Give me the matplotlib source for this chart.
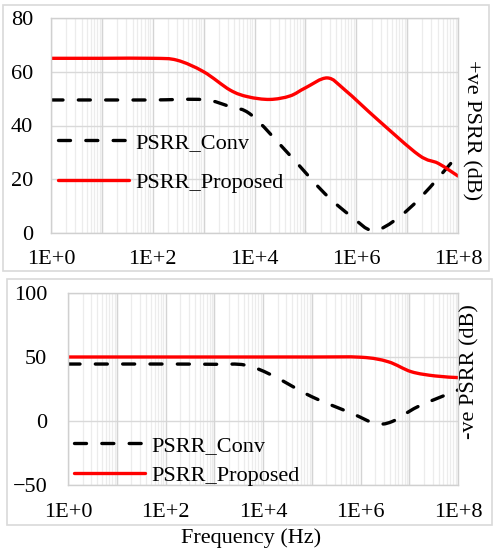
import numpy as np
import matplotlib
matplotlib.use('Agg')
import matplotlib.pyplot as plt
from matplotlib.patches import Rectangle, PathPatch
from matplotlib.path import Path
from matplotlib.lines import Line2D
from matplotlib.ticker import LogLocator, FixedLocator, NullFormatter

plt.rcParams['font.family'] = ['Liberation Serif', 'DejaVu Serif']
plt.rcParams['font.size'] = 16

# +ve PSRR (top panel), frequency in Hz
f_top_conv = [1, 10, 100, 1e3, 3.3e3, 8.7e3, 4.6e4, 2.4e5, 8.1e5, 2.1e6, 5.8e6, 1.9e7, 1e8]
psrr_top_conv = [49.5, 49.5, 49.5, 49.6, 47.0, 43.9, 29.6, 14.7, 6.1, 0.9, 4.8, 13.5, 29.0]
f_top_prop = [1, 10, 100, 300, 1e3, 3.3e3, 7.4e3, 2e4, 5e4, 1e5, 2.7e5, 6e5, 2.7e6, 1.7e7, 4.1e7, 1e8]
psrr_top_prop = [65, 65, 65, 64.3, 60.0, 53.2, 50.7, 49.7, 51.0, 54.0, 57.7, 53.2, 42.0, 29.0, 25.9, 21.2]

# -ve PSRR (bottom panel)
f_bot_conv = [1, 10, 100, 1e3, 4.3e3, 1.5e4, 1e5, 6.6e5, 2e6, 4.4e6, 1.5e7, 1e8]
psrr_bot_conv = [44.5, 44.5, 44.5, 44.3, 43.7, 35.9, 19.0, 6.0, -1.8, -0.5, 11.2, 24.2]
f_bot_prop = [1, 10, 100, 1e3, 1e4, 1e5, 1.05e6, 3.7e6, 1.1e7, 3.4e7, 1e8]
psrr_bot_prop = [50, 50, 50, 50, 50, 50, 49.8, 46.3, 38.5, 35.2, 33.9]

xticks = [1, 1e2, 1e4, 1e6, 1e8]
xtick_labels = ['1E+0', '1E+2', '1E+4', '1E+6', '1E+8']

W, H = 493, 550
fig = plt.figure(figsize=(W / 100, H / 100), dpi=100)

def px_axes(l, t, r, b):
  return fig.add_axes([l / W, 1 - b / H, (r - l) / W, (b - t) / H])

def smooth_line(ax, f, y, **kw):
  # excel-style smoothed line: bezier segments through the points (log x)
  lx = np.log10(f)
  y = np.asarray(y, float)
  n = len(lx)
  verts = [(f[0], y[0])]
  codes = [Path.MOVETO]
  for i in range(n - 1):
    i0, i2 = max(i - 1, 0), min(i + 2, n - 1)
    c1x = lx[i] + (lx[i + 1] - lx[i0]) / 6
    c1y = y[i] + (y[i + 1] - y[i0]) / 6
    c2x = lx[i + 1] - (lx[i2] - lx[i]) / 6
    c2y = y[i + 1] - (y[i2] - y[i]) / 6
    verts += [(10 ** c1x, c1y), (10 ** c2x, c2y), (f[i + 1], y[i + 1])]
    codes += [Path.CURVE4] * 3
  ax.add_patch(PathPatch(Path(verts, codes), fill=False, **kw))

def style(ax, ylim, yticks, ypad, xpad):
  ax.set_xscale('log')
  ax.set_xlim(1, 1e8)
  ax.set_ylim(*ylim)
  ax.set_yticks(yticks)
  ax.xaxis.set_major_locator(FixedLocator(xticks))
  ax.set_xticklabels(xtick_labels)
  ax.xaxis.set_minor_locator(LogLocator(base=10, subs=np.arange(1, 10), numticks=100))
  ax.xaxis.set_minor_formatter(NullFormatter())
  ax.tick_params(axis='both', which='both', length=0)
  ax.tick_params(axis='y', pad=ypad)
  ax.tick_params(axis='x', pad=xpad)
  ax.grid(True, axis='x', which='minor', color='#ececec', lw=0.9)
  ax.grid(True, axis='y', which='major', color='#d9d9d9', lw=1.0)
  for d in range(9):
    ax.axvline(10.0 ** d, color='#d4d4d4', lw=1.0, zorder=0.6)
  ax.set_axisbelow(True)
  for s in ax.spines.values():
    s.set_color('#d0d0d0')
    s.set_linewidth(1.0)

lw = 2.4
dash = (3.6, 4.6)
conv_kw = dict(color='black', lw=lw, linestyle=(0, dash), capstyle='round')
prop_kw = dict(color='#ff0000', lw=lw, capstyle='round')
handles = [Line2D([], [], color='black', lw=lw, dashes=dash, dash_capstyle='round'),
           Line2D([], [], color='#ff0000', lw=lw, solid_capstyle='round')]
names = ['PSRR_Conv', 'PSRR_Proposed']

# figure frames
fig.add_artist(Rectangle((3 / W, 1 - 271 / H), 486 / W, 266 / H, transform=fig.transFigure,
                         fill=False, ec='#d9d9d9', lw=1.2))
fig.add_artist(Rectangle((7 / W, 1 - 525 / H), 485 / W, 246 / H, transform=fig.transFigure,
                         fill=False, ec='#d9d9d9', lw=1.2))

ax1 = px_axes(51, 18, 458, 233)
smooth_line(ax1, f_top_conv, psrr_top_conv, **conv_kw)
smooth_line(ax1, f_top_prop, psrr_top_prop, **prop_kw)
style(ax1, (0, 80), [0, 20, 40, 60, 80], 13, 12)
ax1.legend(handles, names, loc='upper left', bbox_to_anchor=(-0.005, 0.508), frameon=False,
           handlelength=3.2, handletextpad=0.3, labelspacing=0.86, borderaxespad=0)
fig.text(471 / W, 1 - 130 / H, '+ve PSRR (dB)', rotation=-90, ha='center', va='center')

ax2 = px_axes(68, 293, 458, 485)
smooth_line(ax2, f_bot_conv, psrr_bot_conv, **conv_kw)
smooth_line(ax2, f_bot_prop, psrr_bot_prop, **prop_kw)
style(ax2, (-50, 100), [-50, 0, 50, 100], 15, 13)
ax2.legend(handles, names, loc='upper left', bbox_to_anchor=(-0.008, 0.305), frameon=False,
           handlelength=3.2, handletextpad=0.3, labelspacing=0.42, borderaxespad=0)
fig.text(470 / W, 1 - 372 / H, '-ve PSRR (dB)', rotation=90, ha='center', va='center')

fig.text(251 / W, 1 - 538 / H, 'Frequency (Hz)', ha='center', va='center')

fig.savefig('out.png', dpi=100)
